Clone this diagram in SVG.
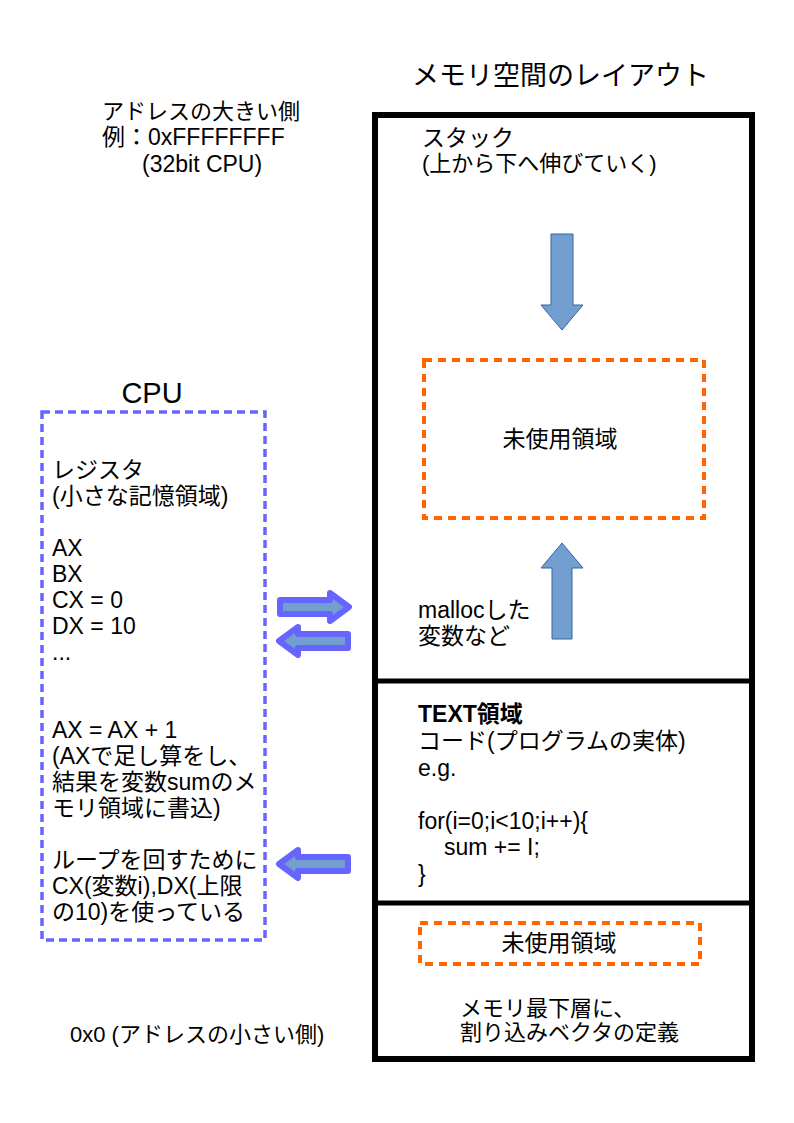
<svg xmlns="http://www.w3.org/2000/svg" width="794" height="1123" viewBox="0 0 794 1123">
<style>
text{font-family:"Liberation Sans","Noto Sans CJK JP",sans-serif;font-size:23px;fill:#000}
.jp{font-size:22px}
.title{font-size:27px}
.cpu{font-size:29px}
.bold{font-weight:bold}
.orange{fill:none;stroke:#ff6600;stroke-width:4;stroke-dasharray:8 6}
.blue{fill:none;stroke:#6666ff;stroke-width:3.5;stroke-dasharray:8 5}
.block{fill:#729fcf;stroke:#3465a4;stroke-width:1}
.fat{fill:#729fcf;stroke:#6666ff;stroke-width:6;stroke-linejoin:round}
</style>
<rect width="794" height="1123" fill="#fff"/>
<g id="title"><text class="title" x="412" y="85">メモリ空間のレイアウト</text></g>
<g id="addr-high">
<text class="jp" x="102" y="119">アドレスの大きい側</text>
<text x="102" y="145">例：0xFFFFFFFF</text>
<text x="142" y="172">(32bit CPU)</text>
</g>
<g id="addr-low"><text class="jp" x="70" y="1042">0x0 (アドレスの小さい側)</text></g>
<g id="memory">
<rect x="375" y="115" width="377" height="944" fill="none" stroke="#000" stroke-width="6"/>
<line x1="375" y1="681" x2="752" y2="681" stroke="#000" stroke-width="5"/>
<line x1="375" y1="903" x2="752" y2="903" stroke="#000" stroke-width="5"/>
</g>
<g id="stack">
<text x="422" y="146">スタック</text>
<text class="jp" x="422" y="171">(上から下へ伸びていく)</text>
</g>
<g id="unused-top">
<rect class="orange" x="424" y="360" width="280" height="158"/>
<text x="560" y="447" text-anchor="middle">未使用領域</text>
</g>
<g id="heap">
<text x="418" y="618">mallocした</text>
<text x="418" y="644">変数など</text>
</g>
<g id="text-area">
<text class="bold" x="418" y="722">TEXT領域</text>
<text x="418" y="749">コード(プログラムの実体)</text>
<text x="418" y="776">e.g.</text>
<text x="418" y="829">for(i=0;i&lt;10;i++){</text>
<text x="444" y="855">sum += I;</text>
<text x="418" y="882">}</text>
</g>
<g id="unused-bottom">
<rect class="orange" x="420" y="923" width="280" height="41"/>
<text x="559" y="951" text-anchor="middle">未使用領域</text>
</g>
<g id="vector">
<text class="jp" x="460" y="1016">メモリ最下層に、</text>
<text class="jp" x="460" y="1040">割り込みベクタの定義</text>
</g>
<g id="cpu">
<text class="cpu" x="152" y="403" text-anchor="middle">CPU</text>
<rect class="blue" x="42" y="412" width="223" height="528"/>
<text x="52" y="478">レジスタ</text>
<text x="52" y="504">(小さな記憶領域)</text>
<text x="52" y="556">AX</text>
<text x="52" y="582">BX</text>
<text x="52" y="608">CX = 0</text>
<text x="52" y="634">DX = 10</text>
<text x="52" y="660">...</text>
<text x="52" y="738">AX = AX + 1</text>
<text x="52" y="764">(AXで足し算をし、</text>
<text x="52" y="790">結果を変数sumのメ</text>
<text x="52" y="816">モリ領域に書込)</text>
<text x="52" y="868">ループを回すために</text>
<text x="52" y="894">CX(変数i),DX(上限</text>
<text x="52" y="920">の10)を使っている</text>
</g>
<g id="connectors">
<path class="block" d="M551,234 H573 V305 H583 L562,330 L541,305 H551 Z"/>
<path class="block" d="M562,543 L583,568 H572 V639 H552 V568 H541 Z"/>
<polygon class="fat" points="280,600 330,600 330,593 349,607 330,621 330,614 280,614"/>
<polygon class="fat" points="348,634 298,634 298,627 279,641 298,655 298,648 348,648"/>
<polygon class="fat" points="348,857 298,857 298,850 279,864 298,878 298,871 348,871"/>
</g>
</svg>
